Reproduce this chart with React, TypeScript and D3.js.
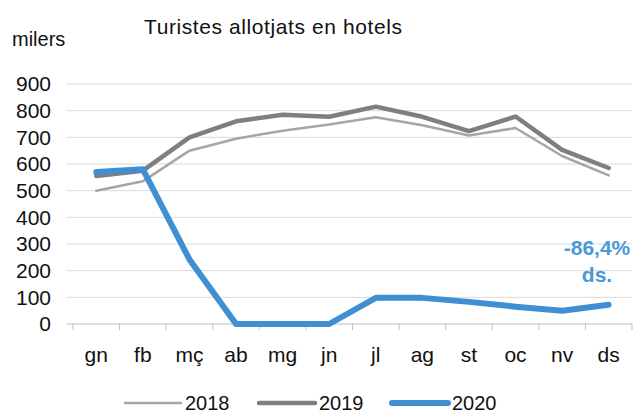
import React from "react";
import * as d3 from "d3";

const months = ["gn", "fb", "mç", "ab", "mg", "jn", "jl", "ag", "st", "oc", "nv", "ds"];
const v2018 = [500, 535, 650, 695, 725, 748, 775, 745, 707, 735, 630, 557];
const v2019 = [555, 575, 700, 760, 785, 777, 815, 777, 723, 778, 653, 585];
const v2020 = [570, 580, 242, 0, 0, 0, 98, 98, 83, 65, 50, 72];
const yTicks = [0, 100, 200, 300, 400, 500, 600, 700, 800, 900];

const series = [
  { name: "2018", values: v2018, color: "#a6a6a6", width: 2.5 },
  { name: "2019", values: v2019, color: "#7f7f7f", width: 4.5 },
  { name: "2020", values: v2020, color: "#3f8fd2", width: 6 },
];

const W = 636;
const H = 413;
const FONT = "'Liberation Sans', Arial, sans-serif";

export default function App() {
  const x = d3.scaleBand().domain(months).range([73, 632]);
  const y = d3.scaleLinear().domain([0, 900]).range([324, 84]);
  const line = d3
    .line<number>()
    .x((d, i) => x(months[i])! + x.bandwidth() / 2)
    .y((d) => y(d));

  const legendX = [125, 259, 392];

  return (
    <svg
      width={W}
      height={H}
      style={{ position: "absolute", left: 0, top: 0, background: "#fff" }}
      fontFamily={FONT}
    >
      <text x={273} y={34} fontSize={21} textAnchor="middle" fill="#111" textLength={258}>
        Turistes allotjats en hotels
      </text>
      <text x={12} y={46} fontSize={20} fill="#111">
        milers
      </text>

      {yTicks.map((t) => (
        <g key={t}>
          <line x1={67} x2={632} y1={y(t)} y2={y(t)} stroke={t === 0 ? "#bfbfbf" : "#d9d9d9"} strokeWidth={1} />
          <text x={51} y={y(t)} dy="0.35em" fontSize={21} textAnchor="end" fill="#111">
            {t}
          </text>
        </g>
      ))}

      {months.map((m) => (
        <g key={m}>
          <line x1={x(m)!} x2={x(m)!} y1={y(0)} y2={y(0) + 6} stroke="#bfbfbf" />
          <text x={x(m)! + x.bandwidth() / 2} y={362} fontSize={21} textAnchor="middle" fill="#111">
            {m}
          </text>
        </g>
      ))}
      <line x1={632} x2={632} y1={y(0)} y2={y(0) + 6} stroke="#bfbfbf" />

      {series.map((s) => (
        <path
          key={s.name}
          d={line(s.values)!}
          fill="none"
          stroke={s.color}
          strokeWidth={s.width}
          strokeLinejoin="round"
          strokeLinecap="round"
        />
      ))}

      <text x={597} y={255} fontSize={21} fontWeight="bold" textAnchor="middle" fill="#4a9ad6">
        -86,4%
      </text>
      <text x={597} y={282} fontSize={21} fontWeight="bold" textAnchor="middle" fill="#4a9ad6">
        ds.
      </text>

      {series.map((s, i) => (
        <g key={s.name}>
          <line
            x1={legendX[i]}
            x2={legendX[i] + 56}
            y1={403}
            y2={403}
            stroke={s.color}
            strokeWidth={s.width}
            strokeLinecap="round"
          />
          <text x={legendX[i] + 60} y={410} fontSize={20} fill="#111">
            {s.name}
          </text>
        </g>
      ))}
    </svg>
  );
}
